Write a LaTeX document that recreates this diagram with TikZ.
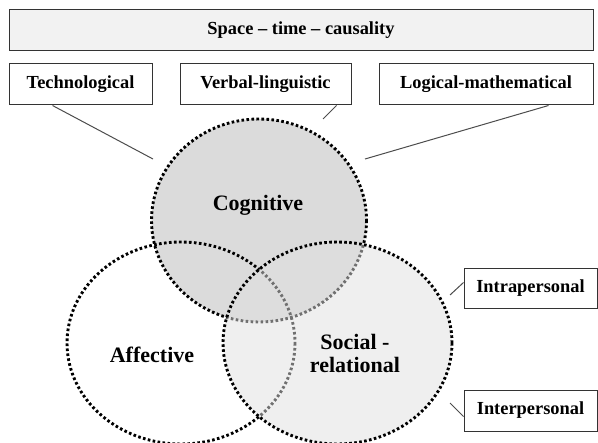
\documentclass[tikz,border=0pt]{standalone}
\usepackage{fontspec}
\setmainfont{Liberation Serif}
\usetikzlibrary{calc}
\begin{document}
\begin{tikzpicture}[x=0.5pt,y=-0.5pt,
    labelbox/.style={draw=black!80,line width=0.5pt,fill=white,inner sep=0pt,
      font=\fontsize{9.2}{11}\selectfont\bfseries},
    sphere/.style={line width=1.45pt,dash pattern=on 1.3pt off 1.2pt},
    link/.style={draw=black!70,line width=0.5pt}]
    \useasboundingbox (0,0) rectangle (598,443);
    % top band
    \node[labelbox,fill=black!5,minimum width=292pt,minimum height=20.5pt] (stc) at (301,30.5) {Space -- time -- causality};
    \node[labelbox,minimum width=71.5pt,minimum height=20.5pt] (tech) at (80.5,84.5) {Technological};
    \node[labelbox,minimum width=85.5pt,minimum height=20.5pt] (verb) at (265.5,84.5) {Verbal-linguistic};
    \node[labelbox,minimum width=107pt,minimum height=20.5pt] (logic) at (486,84.5) {Logical-mathematical};
    \node[labelbox,minimum width=66.5pt,minimum height=20pt] (intra) at (530.5,288) {Intrapersonal};
    \node[labelbox,minimum width=66.5pt,minimum height=20.5pt] (inter) at (530.5,410.5) {Interpersonal};
    % three areas
    \draw[sphere,fill=black!14] (259,220.5) ellipse [x radius=107.5,y radius=101.5];
    \draw[sphere] (181,343) ellipse [x radius=114,y radius=101];
    \draw[sphere,fill=black!12,fill opacity=0.5] (337.5,343) ellipse [x radius=114.5,y radius=101];
    \node[font=\fontsize{11}{11.5}\selectfont\bfseries] (cog) at (258,205) {Cognitive};
    \node[font=\fontsize{11}{11.5}\selectfont\bfseries] (aff) at (152,355) {Affective};
    \node[font=\fontsize{11}{11.5}\selectfont\bfseries,align=center] (soc) at (355,353) {Social -\\relational};
    % connectors
    \coordinate (e1) at (153,159);
    \coordinate (e2) at (323,119);
    \coordinate (e3) at (365,159);
    \coordinate (e4) at (450,295);
    \coordinate (e5) at (450,403);
    \draw[link] ($(tech.south west)+(44,0)$) -- (e1);
    \draw[link] ($(verb.south east)+(-15,0)$) -- (e2);
    \draw[link] ($(logic.south east)+(-45,0)$) -- (e3);
    \draw[link] ($(intra.north west)+(0,15)$) -- (e4);
    \draw[link] ($(inter.south west)+(0,-15)$) -- (e5);
\end{tikzpicture}
\end{document}
